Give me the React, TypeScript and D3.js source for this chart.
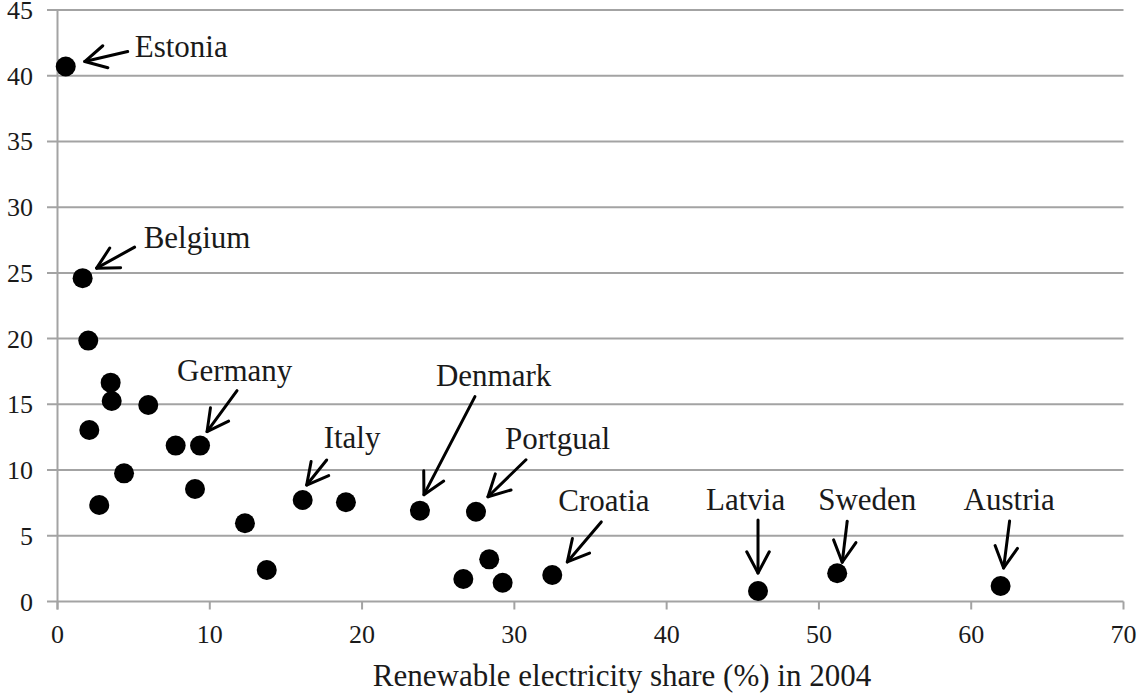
import React from 'react'
import * as d3 from 'd3'

// renewable electricity share (%) in 2004 vs. growth (y)
const countries = [
  'Estonia', 'Belgium', '', '', '', '', '', '', 'Germany', '', '', '', '', '',
  'Italy', '', 'Denmark', 'Portgual', '', '', '', 'Croatia', 'Latvia', 'Sweden', 'Austria',
]
const shares = [
  0.54, 1.65, 2.02, 3.49, 3.56, 5.96, 2.09, 7.76, 9.36, 4.37, 2.74, 9.03, 12.31, 13.74,
  16.1, 18.94, 23.8, 27.48, 26.65, 28.35, 29.23, 32.49, 46.0, 51.2, 61.93,
]
const values = [
  40.7, 24.6, 19.85, 16.65, 15.25, 14.95, 13.05, 11.86, 11.86, 9.75, 7.34, 8.56, 5.95, 2.4,
  7.72, 7.55, 6.91, 6.83, 1.71, 3.21, 1.43, 2.02, 0.8, 2.15, 1.18,
]
const xTicks = [0, 10, 20, 30, 40, 50, 60, 70]
const yTicks = [0, 5, 10, 15, 20, 25, 30, 35, 40, 45]

// annotation layout, pixel offsets from the point centre
const notes = [
  { name: 'Estonia', tip: [19, -5], tail: [62, -15], label: [69, -10] },
  { name: 'Belgium', tip: [14, -10], tail: [52, -31], label: [61, -30] },
  { name: 'Germany', tip: [7, -14], tail: [37, -55], label: [-23, -65] },
  { name: 'Italy', tip: [4, -15], tail: [24, -40], label: [21, -52] },
  { name: 'Denmark', tip: [4, -16], tail: [55, -114], label: [16, -125] },
  { name: 'Portgual', tip: [12, -15], tail: [50, -52], label: [29, -63] },
  { name: 'Croatia', tip: [15, -13], tail: [49, -53], label: [6, -64] },
  { name: 'Latvia', tip: [0, -18], tail: [0, -71], label: [-52, -81] },
  { name: 'Sweden', tip: [5, -11], tail: [10, -52], label: [-19, -63] },
  { name: 'Austria', tip: [3, -18], tail: [9, -65], label: [-37, -76] },
]

const W = 1138
const H = 695
const font = '"Liberation Serif", "Times New Roman", serif'
const grid = '#a3a3a3'
const ink = '#1a1a1a'

const App: React.FC = () => {
  const x = d3.scaleLinear().domain([0, 70]).range([57.5, 1123.5])
  const y = d3.scaleLinear().domain([0, 45]).range([601.5, 10])

  const points = shares.map((s, i) => ({ name: countries[i], x: x(s), y: y(values[i]) }))

  const arrowHead = (tx: number, ty: number, sx: number, sy: number) => {
    const a = Math.atan2(sy - ty, sx - tx)
    const len = 24
    const spread = (28 * Math.PI) / 180
    const p1 = [tx + len * Math.cos(a - spread), ty + len * Math.sin(a - spread)]
    const p2 = [tx + len * Math.cos(a + spread), ty + len * Math.sin(a + spread)]
    return `M${p1[0]},${p1[1]}L${tx},${ty}L${p2[0]},${p2[1]}`
  }

  return (
    <svg width={W} height={H} style={{ position: 'absolute', left: 0, top: 0, background: '#fff' }}>
      {/* grid lines */}
      {yTicks.map((t) => (
        <line key={'g' + t} x1={47} x2={x(70)} y1={y(t)} y2={y(t)} stroke={grid} strokeWidth={2} />
      ))}
      <line x1={x(0)} x2={x(0)} y1={y(45)} y2={y(0) + 8} stroke={grid} strokeWidth={2} />
      {xTicks.map((t) => (
        <line key={'xt' + t} x1={x(t)} x2={x(t)} y1={y(0)} y2={y(0) + 8} stroke={grid} strokeWidth={2} />
      ))}

      {/* tick labels */}
      {yTicks.map((t) => (
        <text key={'yl' + t} x={33} y={y(t) + 9} textAnchor="end" fontFamily={font} fontSize={26} fill={ink}>
          {t}
        </text>
      ))}
      {xTicks.map((t) => (
        <text key={'xl' + t} x={x(t)} y={643} textAnchor="middle" fontFamily={font} fontSize={26} fill={ink}>
          {t}
        </text>
      ))}
      <text x={622} y={686} textAnchor="middle" fontFamily={font} fontSize={31} fill={ink}>
        Renewable electricity share (%) in 2004
      </text>

      {/* points */}
      {points.map((p, i) => (
        <circle key={'p' + i} cx={p.x} cy={p.y} r={10} fill="#000" />
      ))}

      {/* annotations */}
      {notes.map((n) => {
        const p = points.find((d) => d.name === n.name)
        if (!p) return null
        const tx = p.x + n.tip[0]
        const ty = p.y + n.tip[1]
        const sx = p.x + n.tail[0]
        const sy = p.y + n.tail[1]
        return (
          <g key={n.name}>
            <line x1={sx} y1={sy} x2={tx} y2={ty} stroke="#000" strokeWidth={3} strokeLinecap="round" />
            <path d={arrowHead(tx, ty, sx, sy)} fill="none" stroke="#000" strokeWidth={3} strokeLinecap="round" strokeLinejoin="round" />
            <text x={p.x + n.label[0]} y={p.y + n.label[1]} fontFamily={font} fontSize={31} fill={ink}>
              {n.name}
            </text>
          </g>
        )
      })}
    </svg>
  )
}

export default App
